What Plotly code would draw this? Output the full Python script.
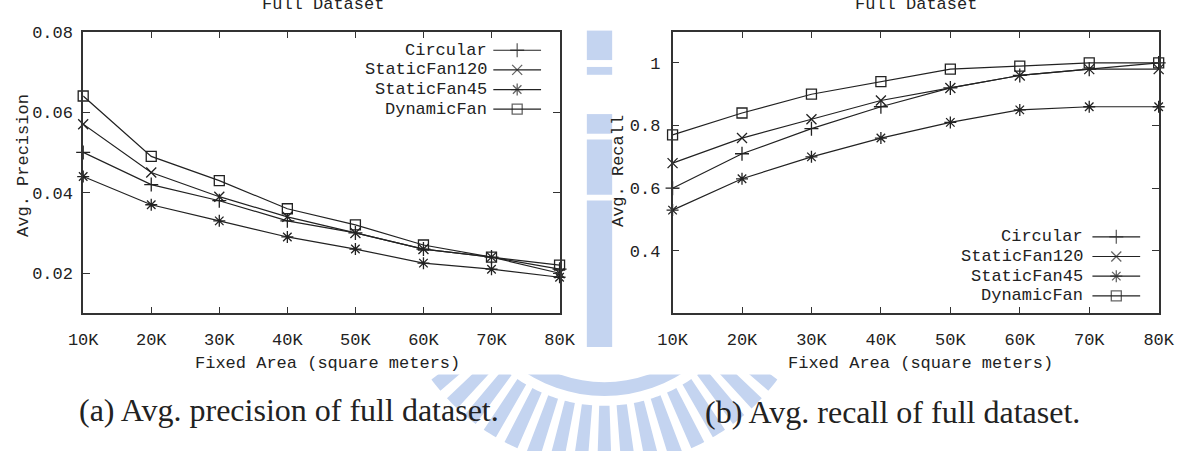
import math
import plotly.graph_objects as go

# ---------------- data ----------------
area_k = [10, 20, 30, 40, 50, 60, 70, 80]
x_ticktext = ["10K", "20K", "30K", "40K", "50K", "60K", "70K", "80K"]
series_names = ["Circular", "StaticFan120", "StaticFan45", "DynamicFan"]

prec_circular = [0.050, 0.042, 0.038, 0.033, 0.030, 0.026, 0.024, 0.021]
prec_static120 = [0.057, 0.045, 0.039, 0.034, 0.030, 0.026, 0.024, 0.020]
prec_static45 = [0.044, 0.037, 0.033, 0.029, 0.026, 0.0225, 0.021, 0.019]
prec_dynamic = [0.064, 0.049, 0.043, 0.036, 0.032, 0.027, 0.024, 0.022]

rec_circular = [0.60, 0.71, 0.79, 0.86, 0.92, 0.96, 0.98, 1.00]
rec_static120 = [0.68, 0.76, 0.82, 0.88, 0.92, 0.96, 0.98, 0.98]
rec_static45 = [0.53, 0.63, 0.70, 0.76, 0.81, 0.85, 0.86, 0.86]
rec_dynamic = [0.77, 0.84, 0.90, 0.94, 0.98, 0.99, 1.00, 1.00]

prec_ticks = [0.02, 0.04, 0.06, 0.08]
prec_ticktext = ["0.02", "0.04", "0.06", "0.08"]
rec_ticks = [0.4, 0.6, 0.8, 1.0]
rec_ticktext = ["0.4", "0.6", "0.8", "1"]

# ---------------- style ----------------
W, H = 1200, 451
MONO = "Liberation Mono"
SERIF = "Liberation Serif"
INK = "#222222"
FRAME = "#333333"
WM = "#c4d4f0"
symbols = ["cross-thin-open", "x-thin-open", "asterisk-open", "square-open"]


def px(x):
    return x / W


def py(y):
    return 1 - y / H


fig = go.Figure()

prec_series = [prec_circular, prec_static120, prec_static45, prec_dynamic]
rec_series = [rec_circular, rec_static120, rec_static45, rec_dynamic]

for name, sym, ys in zip(series_names, symbols, prec_series):
    fig.add_trace(go.Scatter(
        x=area_k, y=ys, name=name, mode="lines+markers", xaxis="x", yaxis="y",
        line=dict(color=INK, width=1.2),
        marker=dict(symbol=sym, size=10, color=INK, line=dict(color=INK, width=1.3)),
        cliponaxis=False, showlegend=False))

for name, sym, ys in zip(series_names, symbols, rec_series):
    fig.add_trace(go.Scatter(
        x=area_k, y=ys, name=name, mode="lines+markers", xaxis="x2", yaxis="y2",
        line=dict(color=INK, width=1.2),
        marker=dict(symbol=sym, size=10, color=INK, line=dict(color=INK, width=1.3)),
        cliponaxis=False, showlegend=False))

# ---------------- gnuplot-style keys (text left, sample right) ----------------
key_specs = [
    # text_end_x, line_x0, line_x1, row ys
    (487, 491, 540, [43, 63, 83, 103]),
    (1098, 1106, 1155, [233, 253, 273, 293]),
]
annotations = []
for text_end, lx0, lx1, rows in key_specs:
    for name, sym, ry in zip(series_names, symbols, rows):
        fig.add_trace(go.Scatter(
            x=[lx0, (lx0 + lx1) / 2, lx1], y=[ry, ry, ry], mode="lines+markers",
            xaxis="x3", yaxis="y3", showlegend=False, hoverinfo="skip",
            line=dict(color=INK, width=1.2),
            marker=dict(symbol=sym, size=[0, 10, 0], color=INK,
                        line=dict(color=INK, width=1.3)),
            cliponaxis=False))
        annotations.append(dict(
            x=px(text_end), y=py(ry), xref="paper", yref="paper",
            xanchor="right", yanchor="middle", showarrow=False, text=name,
            font=dict(family=MONO, size=17, color=INK)))

# titles (cut at top, as in the reference), axis titles, captions
text_items = [
    ("Full Dataset", 316, -4, 0, 17, MONO),
    ("Full Dataset", 925, -4, 0, 17, MONO),
    ("Fixed Area (square meters)", 321, 362, 0, 17, MONO),
    ("Fixed Area (square meters)", 929, 362, 0, 17, MONO),
    ("Avg. Precision", 8, 160, -90, 17, MONO),
    ("Avg. Recall", 619, 166, -90, 17, MONO),
    ("(a) Avg. precision of full dataset.", 281, 409, 0, 32, SERIF),
    ("(b) Avg. recall of full dataset.", 901, 411, 0, 32, SERIF),
]
for txt, tx, ty, rot, size, fam in text_items:
    annotations.append(dict(
        x=px(tx), y=py(ty), xref="paper", yref="paper", xanchor="center",
        yanchor="middle", showarrow=False, text=txt, textangle=rot,
        font=dict(family=fam, size=size, color=INK)))

# ---------------- faded watermark (background) ----------------
shapes = []
cx, cy = 605, 245


def ring_path(r0, r1, a0, a1, n=30):
    pts = []
    for i in range(n + 1):
        a = math.radians(a0 + (a1 - a0) * i / n)
        pts.append((cx + r1 * math.sin(a), cy + r1 * math.cos(a)))
    for i in range(n, -1, -1):
        a = math.radians(a0 + (a1 - a0) * i / n)
        pts.append((cx + r0 * math.sin(a), cy + r0 * math.cos(a)))
    return "M " + " L ".join(f"{px(x):.5f},{py(y):.5f}" for x, y in pts) + " Z"


shapes.append(dict(type="path", xref="paper", yref="paper", layer="below",
                   path=ring_path(136, 150, -72, 72), fillcolor=WM, line=dict(width=0)))
n_str = 21
for k in range(n_str):
    a = -64 + 128 * k / (n_str - 1)
    shapes.append(dict(type="path", xref="paper", yref="paper", layer="below",
                       path=ring_path(160, 222, a - 1.9, a + 1.9, n=4),
                       fillcolor=WM, line=dict(width=0)))
for y0, y1 in [(23, 53), (60, 68), (108, 128), (134, 190), (196, 345)]:
    shapes.append(dict(type="rect", xref="paper", yref="paper", layer="below",
                       x0=px(587), x1=px(613), y0=py(y1), y1=py(y0),
                       fillcolor=WM, line=dict(width=0)))
# opaque chart panels over the watermark
for x0, x1 in [(0, 586), (614, 1200)]:
    shapes.append(dict(type="rect", xref="paper", yref="paper", layer="below",
                       x0=px(x0), x1=px(x1), y0=py(373), y1=py(0),
                       fillcolor="white", line=dict(width=0)))

# ---------------- axes ----------------
common_axis = dict(showline=True, linecolor=FRAME, linewidth=1.6, mirror="ticks",
                   ticks="inside", ticklen=7, tickwidth=1.4, tickcolor=FRAME,
                   showgrid=False, zeroline=False,
                   tickfont=dict(family=MONO, size=17, color=INK))

y_dom = [py(311), py(24)]
fig.update_layout(
    width=W, height=H, margin=dict(l=0, r=0, t=0, b=0),
    paper_bgcolor="white", plot_bgcolor="rgba(0,0,0,0)",
    showlegend=False,
    xaxis=dict(domain=[px(70), px(559)], range=[10, 80], tickvals=area_k,
               ticktext=x_ticktext, anchor="y", ticklabelstandoff=9, **common_axis),
    yaxis=dict(domain=y_dom, range=[0.01, 0.08], tickvals=prec_ticks,
               ticktext=prec_ticktext, anchor="x", ticklabelstandoff=5, **common_axis),
    xaxis2=dict(domain=[px(675), px(1174)], range=[10, 80], tickvals=area_k,
                ticktext=x_ticktext, anchor="y2", ticklabelstandoff=9, **common_axis),
    yaxis2=dict(domain=y_dom, range=[0.2, 1.1], tickvals=rec_ticks,
                ticktext=rec_ticktext, anchor="x2", ticklabelstandoff=7, **common_axis),
    xaxis3=dict(domain=[0, 1], range=[0, W], visible=False, anchor="y3", fixedrange=True),
    yaxis3=dict(domain=[0, 1], range=[H, 0], visible=False, anchor="x3", fixedrange=True),
    annotations=annotations,
    shapes=shapes,
)

fig.write_html("out.html")
